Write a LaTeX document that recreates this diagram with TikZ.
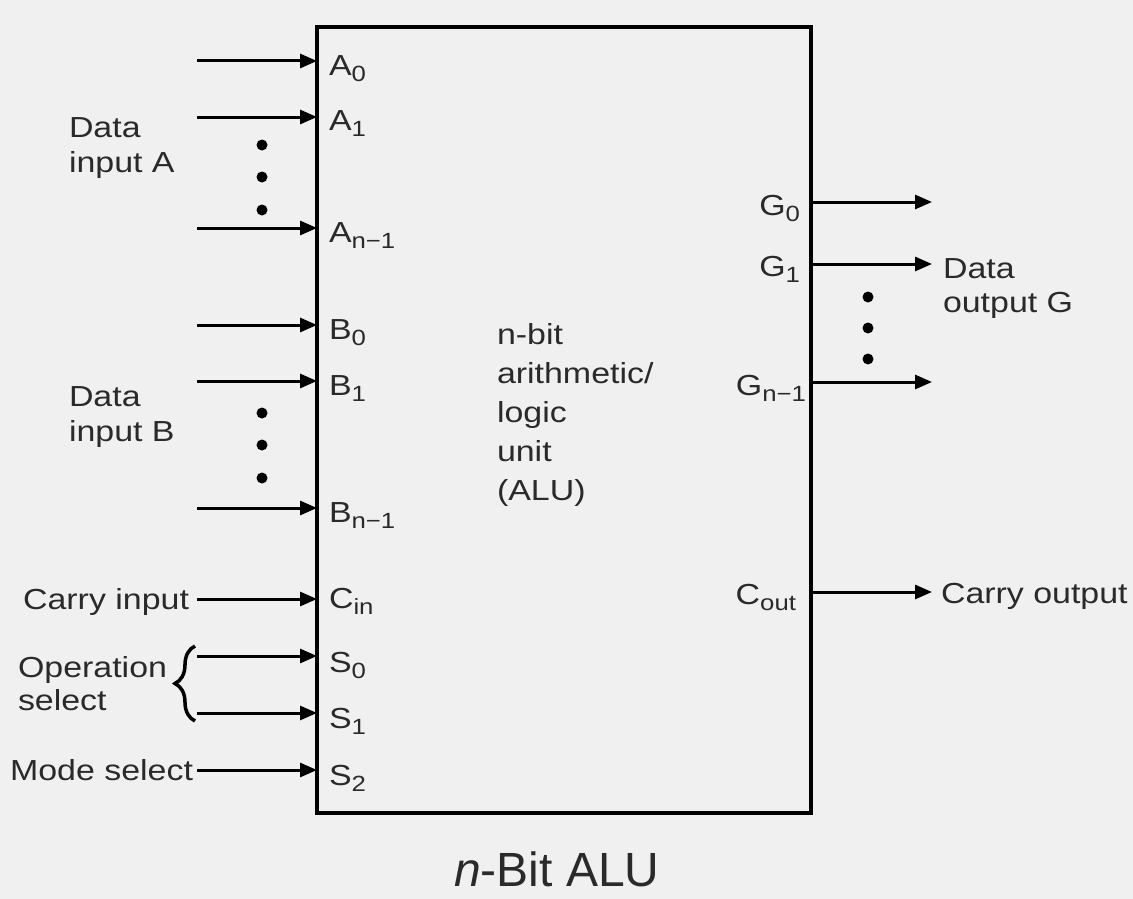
\documentclass[tikz,border=0pt]{standalone}
\usepackage{fontspec}
\setmainfont{Liberation Sans}[FakeStretch=1.17]
\newfontfamily\titlefont{Liberation Sans}
\usetikzlibrary{arrows.meta,decorations.pathreplacing}
\newcommand\sbs[1]{\raisebox{-6pt}{\fontsize{22}{23}\selectfont #1}}
\definecolor{bg}{HTML}{F0F0F0}
\definecolor{ink}{HTML}{2A2A2A}
\begin{document}
\begin{tikzpicture}[x=1pt,y=-1pt,
  every node/.style={inner sep=0pt, outer sep=0pt, text=ink, font=\fontsize{29}{35}\selectfont},
  sig/.style={line width=3pt, -{Triangle[length=17pt,width=14pt]}},
  pinl/.style={anchor=base west},
  pinr/.style={anchor=base east},
  lab/.style={anchor=base west, align=left},
  labr/.style={anchor=base east, align=left},
  dotn/.style={circle, fill=black, minimum size=11pt}]
\fill[bg] (0,0) rectangle (1133,899);
\useasboundingbox (0,0) rectangle (1133,899);
\node[draw, line width=3.5pt, minimum width=494pt, minimum height=786pt] (alu) at (564,420) {};

% left inputs
\coordinate (ia0) at (197,61);
\coordinate (ia1) at (197,117);
\coordinate (ian) at (197,228);
\coordinate (ib0) at (197,325);
\coordinate (ib1) at (197,381);
\coordinate (ibn) at (197,508);
\coordinate (icin) at (197,599);
\coordinate (is0) at (197,656);
\coordinate (is1) at (197,713);
\coordinate (is2) at (197,770);
\foreach \c in {ia0,ia1,ian,ib0,ib1,ibn,icin,is0,is1,is2}
  \draw[sig] (\c) -- (\c -| alu.west);

\node[pinl] (pa0) at (329,75) {A\sbs{0}};
\node[pinl] (pa1) at (329,130) {A\sbs{1}};
\node[pinl] (pan) at (329,242) {A\sbs{n−1}};
\node[pinl] (pb0) at (329,339) {B\sbs{0}};
\node[pinl] (pb1) at (329,395) {B\sbs{1}};
\node[pinl] (pbn) at (329,522) {B\sbs{n−1}};
\node[pinl] (pcin) at (329,608) {C\sbs{in}};
\node[pinl] (ps0) at (329,672) {S\sbs{0}};
\node[pinl] (ps1) at (329,728) {S\sbs{1}};
\node[pinl] (ps2) at (329,785) {S\sbs{2}};

\node[dotn] (da1) at (262,145) {};
\node[dotn] (da2) at (262,177) {};
\node[dotn] (da3) at (262,210) {};
\node[dotn] (db1) at (262,413) {};
\node[dotn] (db2) at (262,445) {};
\node[dotn] (db3) at (262,478) {};

\node[lab] (dataA) at (69,172) {Data\\input A};
\node[lab] (dataB) at (69,441) {Data\\input B};
\node[labr] (carryin) at (189,609) {Carry input};
\node[lab, font=\fontsize{29}{33}\selectfont] (opsel) at (18,710) {Operation\\select};
\node[labr] (modesel) at (193,780) {Mode select};
\draw[line width=3.5pt, decorate, decoration={brace, amplitude=20pt}] (195,721) -- (195,646);

% center text
\node[lab, font=\fontsize{29}{39}\selectfont] (alutext) at (497,500) {n-bit\\arithmetic/\\logic\\unit\\(ALU)};

% right outputs
\coordinate (og0) at (932,202);
\coordinate (og1) at (932,264);
\coordinate (ogn) at (932,382);
\coordinate (ocout) at (932,592);
\foreach \c in {og0,og1,ogn,ocout}
  \draw[sig] (\c -| alu.east) -- (\c);

\node[pinr] (pg0) at (800,215) {G\sbs{0}};
\node[pinr] (pg1) at (800,276) {G\sbs{1}};
\node[pinr] (pgn) at (806,395) {G\sbs{n−1}};
\node[pinr] (pcout) at (796,604) {C\sbs{out}};

\node[dotn] (dg1) at (868,297) {};
\node[dotn] (dg2) at (868,328) {};
\node[dotn] (dg3) at (868,359) {};

\node[lab, font=\fontsize{29}{34}\selectfont] (dataG) at (943,312) {Data\\output G};
\node[lab] (carryout) at (941,603) {Carry output};

\node[anchor=base, font=\titlefont\fontsize{48}{55}\selectfont] (title) at (557,886) {\textit{n}-Bit ALU};
\end{tikzpicture}
\end{document}
